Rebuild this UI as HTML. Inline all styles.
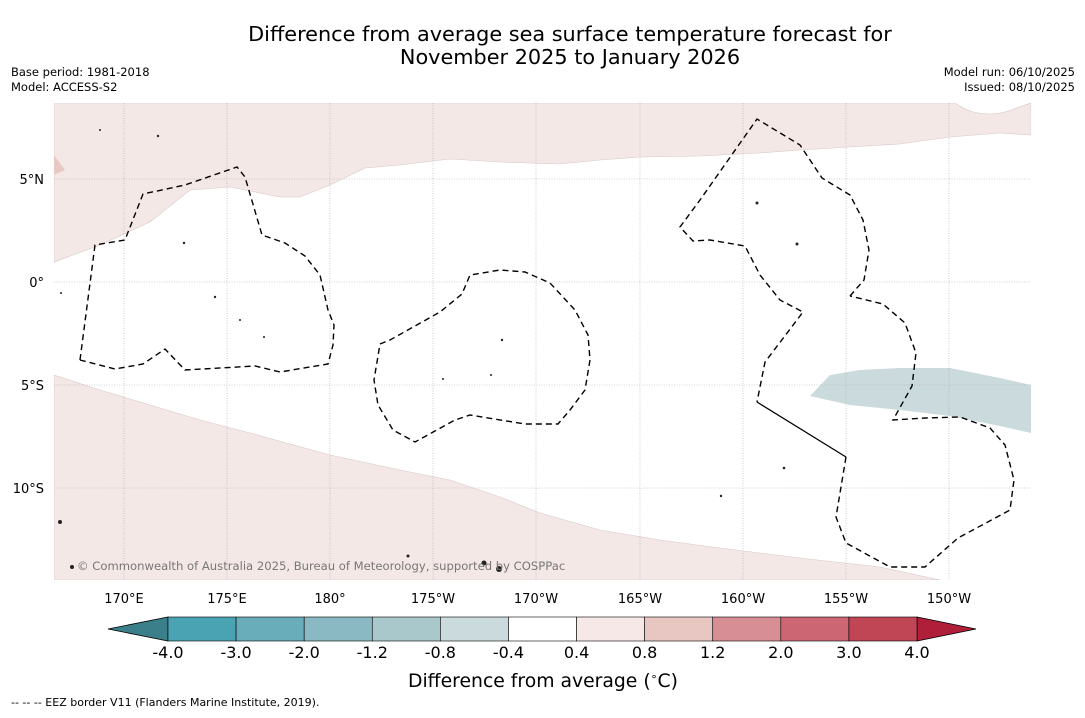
<!DOCTYPE html>
<html><head><meta charset="utf-8"><style>
body{margin:0;background:#fff;font-family:"Liberation Sans","DejaVu Sans",sans-serif;}
svg text{font-family:"DejaVu Sans","Liberation Sans",sans-serif;}
</style></head><body>
<svg width="1085" height="713" viewBox="0 0 1085 713">
<rect width="1085" height="713" fill="#fff"/>
<text x="570" y="41" font-size="20.8" text-anchor="middle">Difference from average sea surface temperature forecast for</text>
<text x="570" y="64" font-size="20.8" text-anchor="middle">November 2025 to January 2026</text>
<text x="11" y="76" font-size="11.5">Base period: 1981-2018</text>
<text x="11" y="91" font-size="11.5">Model: ACCESS-S2</text>
<text x="1075" y="76" font-size="11.5" text-anchor="end">Model run: 06/10/2025</text>
<text x="1075" y="91" font-size="11.5" text-anchor="end">Issued: 08/10/2025</text>

<g>
<clipPath id="mc"><rect x="54" y="103" width="977" height="477"/></clipPath>
<g clip-path="url(#mc)">
<path fill="#f4e8e7" stroke="#d8c8c8" stroke-width="0.6" d="M54,103 L955,103 C965,110 975,114 990,114 C1005,114 1015,108 1031,103 L1031,135 L1000,133 L950,137 L900,144 L850,147 L800,150 L760,153 L700,156 L640,157 L600,160 L560,164 L500,162 L450,159 L400,165 L365,168 L330,185 L300,197 L280,197 L230,187 L190,190 L150,222 L100,245 L54,262 Z"/>
<path fill="#e8c8c3" d="M54,155 L65,170 L54,175 Z"/>
<path fill="#f4e8e7" stroke="#d8c8c8" stroke-width="0.6" d="M54,375 L100,390 L150,405 L200,420 L250,433 L330,455 L400,470 L450,480 L500,497 L540,513 L600,530 L660,540 L720,548 L800,558 L880,567 L940,580 L54,580 Z"/>
<path fill="#cbdadd" d="M810,396 L830,375 L860,370 L900,368 L950,368 L1000,378 L1031,385 L1031,433 L1000,426 L950,416 L900,410 L850,405 Z"/>
<g stroke="#aaa" stroke-width="0.6" stroke-dasharray="1,1.5">
<line x1="124" y1="103" x2="124" y2="580"/><line x1="227" y1="103" x2="227" y2="580"/><line x1="330" y1="103" x2="330" y2="580"/><line x1="433" y1="103" x2="433" y2="580"/><line x1="536" y1="103" x2="536" y2="580"/><line x1="640" y1="103" x2="640" y2="580"/><line x1="743" y1="103" x2="743" y2="580"/><line x1="846" y1="103" x2="846" y2="580"/><line x1="949" y1="103" x2="949" y2="580"/>
<line x1="54" y1="179" x2="1031" y2="179"/><line x1="54" y1="282" x2="1031" y2="282"/><line x1="54" y1="385" x2="1031" y2="385"/><line x1="54" y1="488" x2="1031" y2="488"/>
</g>
<g fill="none" stroke="#000" stroke-width="1.4" stroke-dasharray="6,4">
<polyline points="80,360 95,245 125,240 143,194 185,185 237,167 245,177 262,235 285,243 305,256 320,275 328,310 334,325 333,345 328,364 280,372 255,366 185,370 165,349 143,364 115,369 80,360"/>
<polyline points="380,344 390,340 440,312 462,294 470,275 500,270 525,272 550,283 575,310 588,335 590,360 585,390 570,410 558,424 525,424 470,415 455,420 415,442 393,430 378,405 374,380 380,344"/>
<polyline points="850,296 864,280 869,250 863,220 850,195 822,178 800,145 757,119 700,200 680,227 693,241 710,240 745,246 760,275 780,300 803,312 778,345 765,362 757,402"/>
<polyline points="846,457 836,517 846,543 890,567 925,567 958,538 1010,510 1014,480 1005,445 990,428 960,417 925,418 893,420 912,386 916,353 905,323 883,304 850,296"/>
</g>
<polyline points="757,402 846,457" fill="none" stroke="#000" stroke-width="1.3"/>
<g fill="#222">
<circle cx="184" cy="243" r="1.2"/><circle cx="215" cy="297" r="1.2"/><circle cx="240" cy="320" r="1"/><circle cx="264" cy="337" r="1"/><circle cx="502" cy="340" r="1.2"/><circle cx="443" cy="379" r="1"/><circle cx="491" cy="375" r="1"/><circle cx="757" cy="203" r="1.5"/><circle cx="797" cy="244" r="1.5"/><circle cx="784" cy="468" r="1.3"/><circle cx="721" cy="496" r="1.2"/><circle cx="60" cy="522" r="2"/><circle cx="499" cy="569" r="3"/><circle cx="72" cy="567" r="2"/><circle cx="158" cy="136" r="1.2"/><circle cx="100" cy="130" r="1"/><circle cx="61" cy="293" r="1"/><circle cx="408" cy="556" r="1.5"/><circle cx="484" cy="563" r="2.5"/>
</g>
</g>
<text x="77" y="570" font-size="11.6" fill="#777">© Commonwealth of Australia 2025, Bureau of Meteorology, supported by COSPPac</text>
</g>
<g font-size="13">
<text x="44" y="184" text-anchor="end">5°N</text><text x="44" y="287" text-anchor="end">0°</text><text x="44" y="390" text-anchor="end">5°S</text><text x="44" y="493" text-anchor="end">10°S</text>
</g>
<g font-size="13" text-anchor="middle">
<text x="124" y="603">170°E</text><text x="227" y="603">175°E</text><text x="330" y="603">180°</text><text x="433" y="603">175°W</text><text x="536" y="603">170°W</text><text x="640" y="603">165°W</text><text x="743" y="603">160°W</text><text x="846" y="603">155°W</text><text x="949" y="603">150°W</text>
</g>
<g id="cbar"></g>
<text x="543" y="687" font-size="18.8" text-anchor="middle">Difference from average (<tspan font-size="11" dy="-7">∘</tspan><tspan dy="7">C)</tspan></text>
<text x="11" y="706" font-size="11">--  --  -- EEZ border V11 (Flanders Marine Institute, 2019).</text>
</svg>
<script>
const bounds=["-4.0","-3.0","-2.0","-1.2","-0.8","-0.4","0.4","0.8","1.2","2.0","3.0","4.0"];
const colors=["#4aa3b3","#69acba","#8ab9c4","#a9c8cc","#cbdadd","#ffffff","#f5e8e7","#e8c6c2","#d78e95","#cb6672","#c04555"];
const extendColors=["#3b7f8a","#b01f3a"];
const ns="http://www.w3.org/2000/svg",g=document.getElementById('cbar');
const x0=168,x1=917,y0=617,h=24,bw=(x1-x0)/colors.length;
function bx(i){return x0+i*bw;}
function mk(t,a){const e=document.createElementNS(ns,t);for(const k in a)e.setAttribute(k,a[k]);g.appendChild(e);return e;}
let l=mk('polygon',{points:`${x0},${y0} ${x0},${y0+h} 108,${y0+h/2}`,fill:extendColors[0],stroke:'#000','stroke-width':0.8});


let r=mk('polygon',{points:`${x1},${y0} ${x1},${y0+h} 976,${y0+h/2}`,fill:extendColors[1],stroke:'#000','stroke-width':0.8});


colors.forEach((c,i)=>{
 const e=mk('rect',{x:bx(i),y:y0,width:bw,height:h,fill:c,stroke:'#000','stroke-width':0.6});
 
 
});
bounds.forEach((b,i)=>{
 const t=mk('text',{x:bx(i),y:658,'font-size':16,'text-anchor':'middle'});t.textContent=b;
 
 
});
</script>
</body></html>
